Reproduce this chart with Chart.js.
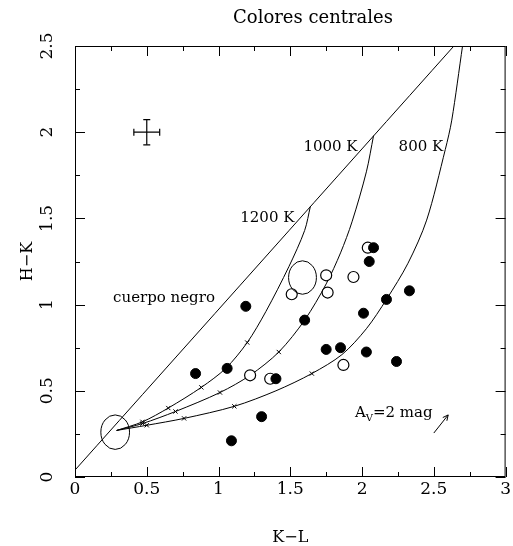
<!DOCTYPE html>
<html>
<head>
<meta charset="utf-8">
<script src="https://cdn.jsdelivr.net/npm/chart.js@4"></script>
<style>
  html, body { margin: 0; padding: 0; background: #fff; }
</style>
</head>
<body>
<canvas id="chart" width="513" height="546"></canvas>
<script>
// tick values
const xMajor = [0, 0.5, 1, 1.5, 2, 2.5, 3];
const xMinor = [0.25, 0.75, 1.25, 1.75, 2.25, 2.75];
const yMajor = [0, 0.5, 1, 1.5, 2, 2.5];
const yMinor = [0.25, 0.75, 1.25, 1.75, 2.25];

// black body line
const bbX = [0, 2.64];
const bbY = [0.04, 2.5];

// model tracks
const k1200X = [0.29, 0.47, 0.65, 0.88, 1.05, 1.20, 1.33, 1.49, 1.60, 1.64];
const k1200Y = [0.27, 0.32, 0.40, 0.52, 0.63, 0.78, 0.96, 1.22, 1.43, 1.57];
const k1000X = [0.29, 0.47, 0.70, 1.01, 1.22, 1.42, 1.60, 1.75, 1.85, 1.93, 2.03, 2.08];
const k1000Y = [0.27, 0.31, 0.38, 0.49, 0.59, 0.725, 0.91, 1.12, 1.30, 1.48, 1.77, 1.98];
const k800X = [0.29, 0.50, 0.76, 1.11, 1.40, 1.65, 1.86, 2.03, 2.17, 2.32, 2.45, 2.58, 2.625, 2.70];
const k800Y = [0.27, 0.30, 0.34, 0.41, 0.50, 0.60, 0.71, 0.86, 1.03, 1.24, 1.49, 1.90, 2.07, 2.50];

// small crosses on the tracks
const markX = [0.47, 0.65, 0.88, 1.20, 0.47, 0.70, 1.01, 1.42, 0.50, 0.76, 1.11, 1.65];
const markY = [0.32, 0.40, 0.52, 0.78, 0.31, 0.38, 0.49, 0.725, 0.30, 0.34, 0.41, 0.60];

// sources
const fullX = [0.84, 1.06, 1.19, 1.30, 1.40, 1.09, 1.60, 1.75, 1.85, 2.03, 2.24, 2.01, 2.08, 2.05, 2.17, 2.33];
const fullY = [0.60, 0.63, 0.99, 0.35, 0.57, 0.21, 0.91, 0.74, 0.75, 0.725, 0.67, 0.95, 1.33, 1.25, 1.03, 1.08];
const openX = [1.22, 1.36, 1.87, 1.51, 1.75, 1.76, 1.94, 2.04];
const openY = [0.59, 0.57, 0.65, 1.06, 1.17, 1.07, 1.16, 1.33];

// extended sources (ellipses, data units)
const ellX = [0.28, 1.585];
const ellY = [0.26, 1.157];
const ellRX = [0.10, 0.097];
const ellRY = [0.10, 0.097];

// typical error bar
const errX = 0.5, errY = 2.0, errDX = 0.09, errDY = 0.073;

// extinction vector A_V = 2 mag
const avX = [2.50, 2.60];
const avY = [0.255, 0.36];

const FONT = 'DejaVu Serif';
const pts = (xs, ys) => xs.map((x, i) => ({ x: x, y: ys[i] }));

const lineDs = (xs, ys) => ({
    type: 'line',
    data: pts(xs, ys),
    borderColor: '#000',
    borderWidth: 1,
    pointRadius: 0,
    fill: false,
    tension: 0.3
});

const decorPlugin = {
    id: 'decor',
    afterDatasetsDraw(chart) {
        const { ctx, scales: { x, y } } = chart;
        ctx.save();
        ctx.strokeStyle = '#000';
        ctx.lineWidth = 1;
        // ellipses
        ellX.forEach((cx, i) => {
            const px = x.getPixelForValue(cx), py = y.getPixelForValue(ellY[i]);
            const rx = Math.abs(x.getPixelForValue(cx + ellRX[i]) - px);
            const ry = Math.abs(y.getPixelForValue(ellY[i] + ellRY[i]) - py);
            ctx.beginPath();
            ctx.ellipse(px, py, rx, ry, 0, 0, Math.PI * 2);
            ctx.stroke();
        });
        // arrow head on A_V vector
        const x1 = x.getPixelForValue(avX[0]), y1 = y.getPixelForValue(avY[0]);
        const x2 = x.getPixelForValue(avX[1]), y2 = y.getPixelForValue(avY[1]);
        const ang = Math.atan2(y2 - y1, x2 - x1);
        ctx.beginPath();
        ctx.moveTo(x2 - 6 * Math.cos(ang - 0.45), y2 - 6 * Math.sin(ang - 0.45));
        ctx.lineTo(x2, y2);
        ctx.lineTo(x2 - 6 * Math.cos(ang + 0.45), y2 - 6 * Math.sin(ang + 0.45));
        ctx.stroke();

        // labels
        ctx.fillStyle = '#000';
        ctx.textBaseline = 'middle';
        ctx.font = '15px "' + FONT + '"';
        ctx.textAlign = 'center';
        ctx.fillText('cuerpo negro', x.getPixelForValue(0.62), y.getPixelForValue(1.04));
        ctx.fillText('1200 K', x.getPixelForValue(1.34), y.getPixelForValue(1.50));
        ctx.fillText('1000 K', x.getPixelForValue(1.78), y.getPixelForValue(1.915));
        ctx.fillText('800 K', x.getPixelForValue(2.41), y.getPixelForValue(1.915));
        ctx.textAlign = 'left';
        let ax = x.getPixelForValue(1.95), ay = y.getPixelForValue(0.37);
        ctx.fillText('A', ax, ay);
        ax += ctx.measureText('A').width;
        ctx.font = '10px "' + FONT + '"';
        ctx.fillText('V', ax, ay + 5);
        ax += ctx.measureText('V').width;
        ctx.font = '15px "' + FONT + '"';
        ctx.fillText('=2 mag', ax, ay);
        ctx.restore();
    },
    afterDraw(chart) {
        const { ctx, chartArea: a, scales: { x, y } } = chart;
        ctx.save();
        ctx.strokeStyle = '#000';
        ctx.lineWidth = 1;
        ctx.strokeRect(a.left + 0.5, a.top + 0.5, a.right - a.left - 1, a.bottom - a.top - 1);
        ctx.beginPath();
        const xt = (vals, len) => vals.forEach(v => {
            const p = Math.round(x.getPixelForValue(v)) + 0.5;
            ctx.moveTo(p, a.bottom); ctx.lineTo(p, a.bottom - len);
            ctx.moveTo(p, a.top); ctx.lineTo(p, a.top + len);
        });
        const yt = (vals, len) => vals.forEach(v => {
            const p = Math.round(y.getPixelForValue(v)) + 0.5;
            ctx.moveTo(a.left, p); ctx.lineTo(a.left + len, p);
            ctx.moveTo(a.right, p); ctx.lineTo(a.right - len, p);
        });
        xt(xMajor, 10); xt(xMinor, 5);
        yt(yMajor, 10); yt(yMinor, 5);
        ctx.stroke();
        ctx.fillStyle = '#000';
        ctx.font = '18px "' + FONT + '"';
        ctx.textAlign = 'center';
        ctx.textBaseline = 'middle';
        ctx.fillText('Colores centrales', 313, 18);
        ctx.restore();
    }
};

const ctx = document.getElementById('chart').getContext('2d');
const chart = new Chart(ctx, {
    type: 'scatter',
    data: {
        datasets: [
            {
                data: pts(fullX, fullY),
                pointRadius: 5,
                pointBackgroundColor: '#000',
                pointBorderColor: '#000',
                pointBorderWidth: 1
            },
            {
                data: pts(openX, openY),
                pointRadius: 5.5,
                pointBackgroundColor: '#fff',
                pointBorderColor: '#000',
                pointBorderWidth: 1.2
            },
            {
                data: pts(markX, markY),
                pointStyle: 'crossRot',
                pointRadius: 3,
                pointBorderColor: '#000',
                pointBorderWidth: 1
            },
            lineDs(k1200X, k1200Y),
            lineDs(k1000X, k1000Y),
            lineDs(k800X, k800Y),
            lineDs(bbX, bbY),
            Object.assign(lineDs(avX, avY), { tension: 0 }),
            {
                type: 'line',
                data: [{ x: errX - errDX, y: errY }, { x: errX + errDX, y: errY }],
                borderColor: '#000', borderWidth: 1.2,
                pointStyle: 'line', pointRotation: 90, pointRadius: 3.5,
                pointBorderColor: '#000', pointBorderWidth: 1.2
            },
            {
                type: 'line',
                data: [{ x: errX, y: errY - errDY }, { x: errX, y: errY + errDY }],
                borderColor: '#000', borderWidth: 1.2,
                pointStyle: 'line', pointRotation: 0, pointRadius: 3.5,
                pointBorderColor: '#000', pointBorderWidth: 1.2
            }
        ]
    },
    options: {
        responsive: false,
        animation: false,
        layout: { padding: { top: 46, right: 6, left: 0, bottom: 0 } },
        plugins: {
            legend: { display: false },
            tooltip: { enabled: false }
        },
        scales: {
            x: {
                type: 'linear',
                min: 0,
                max: 3,
                afterBuildTicks: s => { s.ticks = xMajor.map(v => ({ value: v })); },
                afterFit: s => { s.height = 69; },
                grid: { display: false, drawTicks: false },
                border: { display: false },
                ticks: {
                    autoSkip: false,
                    maxRotation: 0,
                    padding: 2,
                    color: '#000',
                    font: { family: FONT, size: 17 },
                    callback: v => String(v)
                },
                title: {
                    display: true,
                    text: 'K\u2212L',
                    color: '#000',
                    padding: 0,
                    font: { family: FONT, size: 16, lineHeight: 1 }
                }
            },
            y: {
                type: 'linear',
                min: 0,
                max: 2.5,
                afterBuildTicks: s => { s.ticks = yMajor.map(v => ({ value: v })); },
                afterFit: s => { s.width = 75; },
                grid: { display: false, drawTicks: false },
                border: { display: false },
                ticks: {
                    autoSkip: false,
                    minRotation: 90,
                    maxRotation: 90,
                    crossAlign: 'center',
                    padding: 14,
                    color: '#000',
                    font: { family: FONT, size: 17 },
                    callback: v => String(v)
                },
                title: {
                    display: true,
                    text: 'H\u2212K',
                    color: '#000',
                    padding: { top: 18, bottom: 0 },
                    font: { family: FONT, size: 16 }
                }
            }
        }
    },
    plugins: [decorPlugin]
});
</script>
</body>
</html>
